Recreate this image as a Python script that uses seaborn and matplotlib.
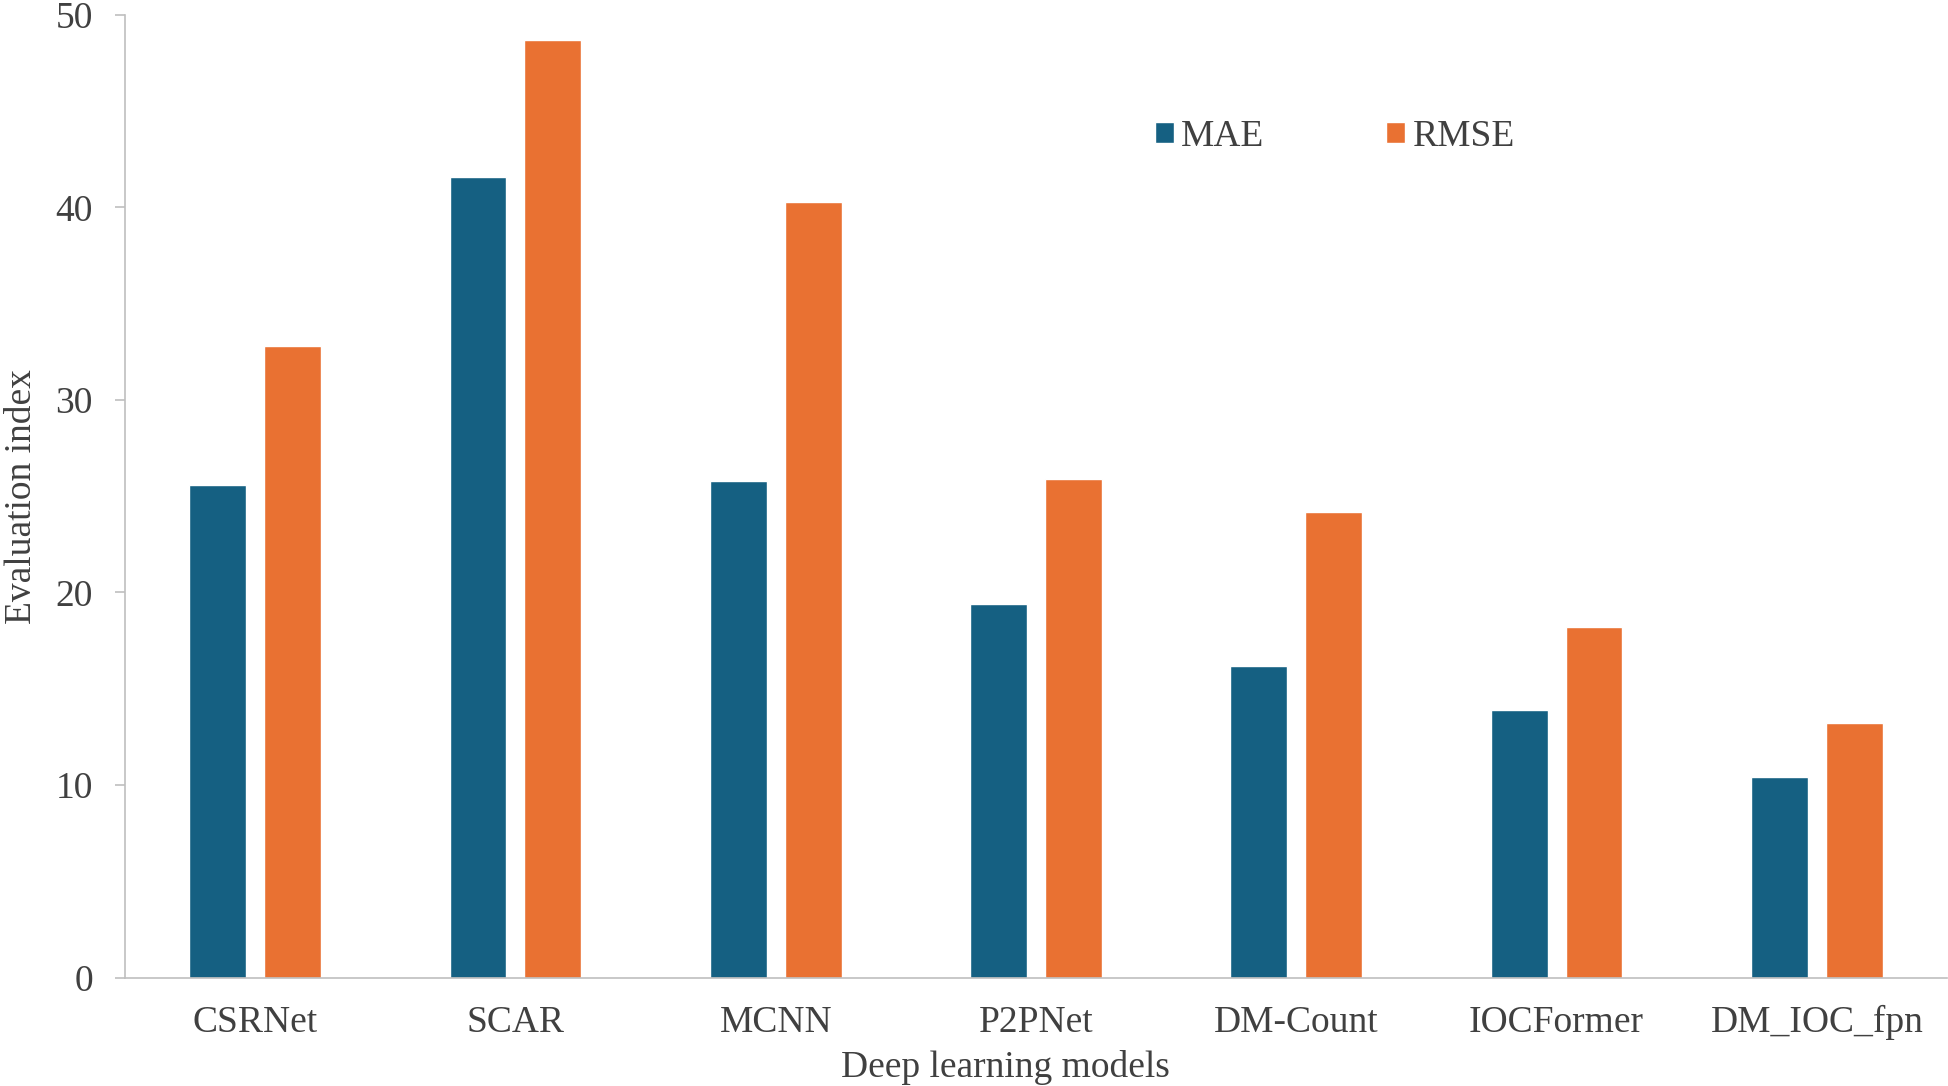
import pandas as pd
import matplotlib.pyplot as plt
import seaborn as sns

# Values
models = ['CSRNet', 'SCAR', 'MCNN', 'P2PNet', 'DM-Count', 'IOCFormer', 'DM_IOC_fpn']
mae = [25.6, 41.6, 25.8, 19.4, 16.2, 13.9, 10.4]
rmse = [32.8, 48.7, 40.3, 25.9, 24.2, 18.2, 13.2]
y_ticks = [0, 10, 20, 30, 40, 50]

# Long format for seaborn
df = pd.DataFrame({
    'model': models * 2,
    'value': mae + rmse,
    'metric': ['MAE'] * len(models) + ['RMSE'] * len(models),
})

sns.set_style('white')
plt.rcParams['font.family'] = ['Liberation Serif', 'DejaVu Serif']

text_col = '#404040'
axis_col = '#BFBFBF'
fs = 27

fig = plt.figure(figsize=(19.49, 10.86), dpi=100)
ax = fig.add_axes([0.0641, 0.0999, 0.9349, 0.8863])

sns.barplot(
    data=df, x='model', y='value', hue='metric',
    order=models, hue_order=['MAE', 'RMSE'],
    palette={'MAE': '#156082', 'RMSE': '#E97132'}, saturation=1,
    width=0.575, gap=0.24, ax=ax, errorbar=None,
)

ax.set_xlim(-0.5, 6.5)
ax.set_ylim(0, 50)
ax.set_yticks(y_ticks)

# Spines: only left and bottom, light gray
for side in ['top', 'right']:
    ax.spines[side].set_visible(False)
for side in ['left', 'bottom']:
    ax.spines[side].set_color(axis_col)
    ax.spines[side].set_linewidth(1.2)

ax.tick_params(axis='y', length=7, width=1.2, color=axis_col, pad=16,
               labelsize=fs, labelcolor=text_col, left=True)
ax.tick_params(axis='x', length=0, pad=20, labelsize=fs, labelcolor=text_col)

ax.set_xlabel('Deep learning models', fontsize=fs, color=text_col)
ax.set_ylabel('Evaluation index', fontsize=fs, color=text_col)
ax.xaxis.set_label_coords(0.483, -0.075)
ax.yaxis.set_label_coords(-0.047, 0.5)

ax.legend(
    ncol=2, frameon=False, fontsize=fs, loc='center',
    bbox_to_anchor=(0.664, 0.874),
    handlelength=0.5, handleheight=0.5, handletextpad=0.2,
    columnspacing=3.25, labelcolor=text_col,
)

plt.savefig('out.png', dpi=100)
